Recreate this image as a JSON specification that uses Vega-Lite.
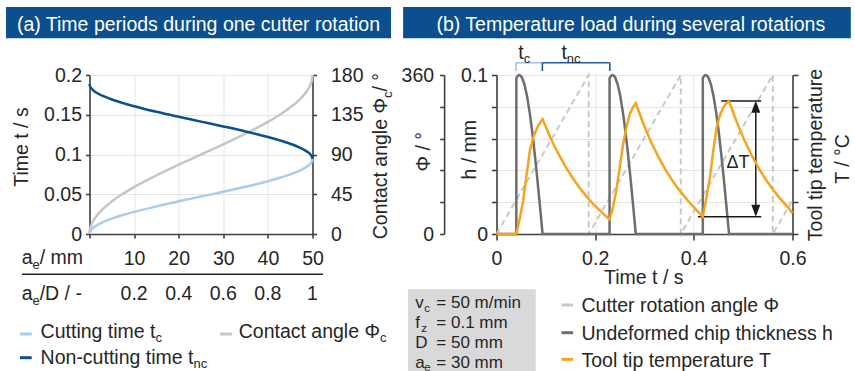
{
 "$schema": "https://vega.github.io/schema/vega-lite/v6.json",
 "padding": {"left": 5.5, "top": 6, "right": 0, "bottom": 0},
 "bounds": "flush",
 "spacing": 184,
 "config": {
  "view": {"stroke": null},
  "font": "Liberation Sans",
  "text": {"font": "Liberation Sans", "fontSize": 19.5, "color": "#262626"},
  "axis": {"labelFont": "Liberation Sans", "labelFontSize": 19.5, "labelColor": "#262626", "domainColor": "#404040", "tickColor": "#404040", "domainWidth": 1.6, "tickWidth": 1.6, "gridColor": "#e3e3e3", "gridWidth": 1, "labelOverlap": false, "labelFlush": false}
 },
 "datasets": {
  "one": [{}],
  "cut": [
   {"ae":0,"phic":0,"tc":0,"tnc":0.1885},
   {"ae":0.1,"phic":5.13,"tc":0.00269,"tnc":0.18581},
   {"ae":0.25,"phic":8.11,"tc":0.00425,"tnc":0.18425},
   {"ae":0.5,"phic":11.48,"tc":0.00601,"tnc":0.18249},
   {"ae":1,"phic":16.26,"tc":0.00851,"tnc":0.17999},
   {"ae":2,"phic":23.07,"tc":0.01208,"tnc":0.17642},
   {"ae":3,"phic":28.36,"tc":0.01485,"tnc":0.17365},
   {"ae":5,"phic":36.87,"tc":0.01931,"tnc":0.16919},
   {"ae":7.5,"phic":45.57,"tc":0.02386,"tnc":0.16464},
   {"ae":10,"phic":53.13,"tc":0.02782,"tnc":0.16068},
   {"ae":15,"phic":66.42,"tc":0.03478,"tnc":0.15372},
   {"ae":20,"phic":78.46,"tc":0.04108,"tnc":0.14742},
   {"ae":25,"phic":90,"tc":0.04712,"tnc":0.14138},
   {"ae":30,"phic":101.54,"tc":0.05317,"tnc":0.13533},
   {"ae":35,"phic":113.58,"tc":0.05947,"tnc":0.12903},
   {"ae":40,"phic":126.87,"tc":0.06643,"tnc":0.12207},
   {"ae":42.5,"phic":134.43,"tc":0.07039,"tnc":0.11811},
   {"ae":45,"phic":143.13,"tc":0.07494,"tnc":0.11356},
   {"ae":47.5,"phic":154.16,"tc":0.08072,"tnc":0.10778},
   {"ae":48,"phic":156.93,"tc":0.08217,"tnc":0.10633},
   {"ae":49,"phic":163.74,"tc":0.08574,"tnc":0.10276},
   {"ae":49.5,"phic":168.52,"tc":0.08824,"tnc":0.10026},
   {"ae":49.75,"phic":171.89,"tc":0.09,"tnc":0.0985},
   {"ae":49.9,"phic":174.87,"tc":0.09156,"tnc":0.09694},
   {"ae":50,"phic":180,"tc":0.09425,"tnc":0.09425}
  ],
  "hdata": [
   {"t":0,"h":0},{"t":0.0402,"h":0},{"t":0.04021,"h":0.098},{"t":0.04205,"h":0.099},{"t":0.04415,"h":0.0998},{"t":0.04624,"h":0.1},{"t":0.04886,"h":0.0996},{"t":0.05148,"h":0.0985},{"t":0.05671,"h":0.094},{"t":0.06195,"h":0.0866},{"t":0.06718,"h":0.0766},{"t":0.07242,"h":0.0643},{"t":0.07765,"h":0.05},{"t":0.08289,"h":0.0342},{"t":0.08813,"h":0.0174},{"t":0.09336,"h":0},
   {"t":0.2292,"h":0},{"t":0.22921,"h":0.098},{"t":0.23105,"h":0.099},{"t":0.23315,"h":0.0998},{"t":0.23524,"h":0.1},{"t":0.23786,"h":0.0996},{"t":0.24048,"h":0.0985},{"t":0.24571,"h":0.094},{"t":0.25095,"h":0.0866},{"t":0.25618,"h":0.0766},{"t":0.26142,"h":0.0643},{"t":0.26665,"h":0.05},{"t":0.27189,"h":0.0342},{"t":0.27713,"h":0.0174},{"t":0.28236,"h":0},
   {"t":0.4182,"h":0},{"t":0.41821,"h":0.098},{"t":0.42005,"h":0.099},{"t":0.42215,"h":0.0998},{"t":0.42424,"h":0.1},{"t":0.42686,"h":0.0996},{"t":0.42948,"h":0.0985},{"t":0.43471,"h":0.094},{"t":0.43995,"h":0.0866},{"t":0.44518,"h":0.0766},{"t":0.45042,"h":0.0643},{"t":0.45565,"h":0.05},{"t":0.46089,"h":0.0342},{"t":0.46613,"h":0.0174},{"t":0.47136,"h":0},{"t":0.6,"h":0}
  ],
  "phidata": [
   {"t":0,"p":0},{"t":0.1869,"p":360},{"t":0.18691,"p":0},{"t":0.3735,"p":360},{"t":0.37351,"p":0},{"t":0.5601,"p":360},{"t":0.56011,"p":0},{"t":0.6,"p":76.9}
  ],
  "tdata": [
   {"t":0,"T":0},{"t":0.0402,"T":0},{"t":0.047,"T":47.5},{"t":0.0539,"T":104},{"t":0.0607,"T":182.5},{"t":0.0675,"T":261},{"t":0.0743,"T":302.5},{"t":0.0811,"T":329},{"t":0.0872,"T":347.5},{"t":0.0934,"T":360.5},
   {"t":0.1084,"T":306},{"t":0.1234,"T":258},{"t":0.1384,"T":215.5},{"t":0.1534,"T":178.5},{"t":0.1684,"T":145.5},{"t":0.1834,"T":116},{"t":0.1984,"T":90.5},{"t":0.2134,"T":68},{"t":0.2292,"T":46},
   {"t":0.2359,"T":82},{"t":0.2426,"T":135},{"t":0.2496,"T":207},{"t":0.2566,"T":282},{"t":0.2634,"T":335},{"t":0.2702,"T":376.5},{"t":0.2763,"T":397.5},{"t":0.2824,"T":411},
   {"t":0.2974,"T":347.5},{"t":0.3124,"T":292.5},{"t":0.3274,"T":245},{"t":0.3424,"T":202.5},{"t":0.3574,"T":166},{"t":0.3724,"T":134},{"t":0.3874,"T":106},{"t":0.4024,"T":80},{"t":0.4182,"T":54.5},
   {"t":0.4254,"T":112.5},{"t":0.4325,"T":177},{"t":0.4393,"T":260},{"t":0.446,"T":334.5},{"t":0.4527,"T":372.5},{"t":0.4593,"T":397},{"t":0.4653,"T":410},{"t":0.4714,"T":418},
   {"t":0.4864,"T":354.5},{"t":0.5014,"T":298.5},{"t":0.5164,"T":250},{"t":0.5314,"T":207},{"t":0.5464,"T":170},{"t":0.5614,"T":137.5},{"t":0.5764,"T":109},{"t":0.5914,"T":83},{"t":0.6,"T":65}
  ]
 },
 "hconcat": [
  {
   "width": 223, "height": 159,
   "resolve": {"scale": {"y": "independent"}, "axis": {"y": "independent"}},
   "layer": [
    {
     "data": {"name": "cut"},
     "mark": {"type": "line", "color": "#c6c6c6", "strokeWidth": 2.5, "interpolate": "monotone"},
     "encoding": {
      "x": {"field": "ae", "type": "quantitative", "scale": {"domain": [0, 50], "nice": false},
            "axis": {"orient": "bottom", "values": [0, 10, 20, 30, 40, 50], "labelExpr": "datum.value == 0 ? '' : datum.label", "grid": true, "title": null, "tickSize": 4, "labelPadding": 11.5, "labelOverlap": false}},
      "y": {"field": "phic", "type": "quantitative", "scale": {"domain": [0, 180], "nice": false},
            "axis": {"orient": "right", "values": [0, 45, 90, 135, 180], "grid": false, "title": null, "tickSize": 4, "labelPadding": 14, "labelOverlap": false}}
     }
    },
    {
     "data": {"name": "cut"},
     "mark": {"type": "line", "color": "#a9cdec", "strokeWidth": 2.5, "interpolate": "monotone"},
     "encoding": {
      "x": {"field": "ae", "type": "quantitative"},
      "y": {"field": "tc", "type": "quantitative", "scale": {"domain": [0, 0.2], "nice": false},
            "axis": {"orient": "left", "values": [0, 0.05, 0.1, 0.15, 0.2], "labelExpr": "datum.value == 0 ? '0' : datum.value == 0.05 ? '0.05' : datum.value == 0.1 ? '0.1' : datum.value == 0.15 ? '0.15' : '0.2'", "grid": true, "title": null, "tickSize": 4, "labelPadding": 4, "labelOverlap": false}}
     }
    },
    {
     "data": {"name": "cut"},
     "mark": {"type": "line", "color": "#0b4f8e", "strokeWidth": 2.5, "interpolate": "monotone"},
     "encoding": {
      "x": {"field": "ae", "type": "quantitative"},
      "y": {"field": "tnc", "type": "quantitative", "scale": {"domain": [0, 0.2], "nice": false}, "axis": null}
     }
    },
    {
     "data": {"name": "one"},
     "mark": {"type": "rect", "color": "#0b4f8e"},
     "encoding": {"x": {"datum": -18.72}, "x2": {"datum": 67.6}, "y": {"datum": 0.28554, "scale": {"domain": [0, 0.2], "nice": false}, "axis": null}, "y2": {"datum": 0.24617}}
    },
    {
     "data": {"name": "one"},
     "mark": {"type": "text", "text": "(a) Time periods during one cutter rotation", "color": "#ffffff", "align": "center", "baseline": "alphabetic"},
     "encoding": {"x": {"datum": 24.44}, "y": {"datum": 0.2554, "scale": {"domain": [0, 0.2], "nice": false}, "axis": null}}
    },
    {
     "data": {"name": "one"},
     "mark": {"type": "text", "text": "Time t / s", "angle": 270, "align": "center", "baseline": "middle"},
     "encoding": {"x": {"datum": -15.2}, "y": {"datum": 0.1094, "scale": {"domain": [0, 0.2], "nice": false}, "axis": null}}
    },
    {
     "data": {"name": "one"},
     "mark": {"type": "text", "text": "Contact angle Φ", "angle": 270, "align": "right", "baseline": "alphabetic"},
     "encoding": {"x": {"datum": 66.71}, "y": {"datum": 0.1711, "scale": {"domain": [0, 0.2], "nice": false}, "axis": null}}
    },
    {
     "data": {"name": "one"},
     "mark": {"type": "text", "text": "c", "angle": 270, "align": "left", "baseline": "alphabetic", "fontSize": 13, "dy": 5},
     "encoding": {"x": {"datum": 66.71}, "y": {"datum": 0.1711, "scale": {"domain": [0, 0.2], "nice": false}, "axis": null}}
    },
    {
     "data": {"name": "one"},
     "mark": {"type": "text", "text": "\u00a0/ °", "angle": 270, "align": "left", "baseline": "alphabetic", "dx": 6.5},
     "encoding": {"x": {"datum": 66.71}, "y": {"datum": 0.1711, "scale": {"domain": [0, 0.2], "nice": false}, "axis": null}}
    },
    {
     "data": {"name": "one"},
     "mark": {"type": "text", "text": ["a", "a"], "align": "right", "baseline": "alphabetic", "lineHeight": 36},
     "encoding": {"x": {"datum": -12.78}, "y": {"datum": -0.0381, "scale": {"domain": [0, 0.2], "nice": false}, "axis": null}}
    },
    {
     "data": {"name": "one"},
     "mark": {"type": "text", "text": ["e", "e"], "align": "left", "baseline": "alphabetic", "lineHeight": 36, "fontSize": 13, "dy": 5},
     "encoding": {"x": {"datum": -12.78}, "y": {"datum": -0.0381, "scale": {"domain": [0, 0.2], "nice": false}, "axis": null}}
    },
    {
     "data": {"name": "one"},
     "mark": {"type": "text", "text": ["\u00a0/ mm", "/D / -"], "align": "left", "baseline": "alphabetic", "lineHeight": 36},
     "encoding": {"x": {"datum": -11.17}, "y": {"datum": -0.0381, "scale": {"domain": [0, 0.2], "nice": false}, "axis": null}}
    },
    {
     "data": {"name": "one"},
     "mark": {"type": "rule", "color": "#262626", "strokeWidth": 1.5},
     "encoding": {"x": {"datum": -15.13}, "x2": {"datum": 52.36}, "y": {"datum": -0.0507, "scale": {"domain": [0, 0.2], "nice": false}, "axis": null}}
    },
    {
     "data": {"values": [{"ae": 10, "r": "0.2"}, {"ae": 20, "r": "0.4"}, {"ae": 30, "r": "0.6"}, {"ae": 40, "r": "0.8"}, {"ae": 50, "r": "1"}]},
     "mark": {"type": "text", "align": "center", "baseline": "alphabetic"},
     "encoding": {"x": {"field": "ae", "type": "quantitative"}, "y": {"datum": -0.0834, "scale": {"domain": [0, 0.2], "nice": false}, "axis": null}, "text": {"field": "r"}}
    },
    {
     "data": {"name": "one"},
     "mark": {"type": "rule", "color": "#a9cdec", "strokeWidth": 3},
     "encoding": {"x": {"datum": -15.58}, "x2": {"datum": -12.96}, "y": {"datum": -0.1258, "scale": {"domain": [0, 0.2], "nice": false}, "axis": null}}
    },
    {
     "data": {"name": "one"},
     "mark": {"type": "rule", "color": "#0b4f8e", "strokeWidth": 3},
     "encoding": {"x": {"datum": -15.58}, "x2": {"datum": -12.96}, "y": {"datum": -0.1556, "scale": {"domain": [0, 0.2], "nice": false}, "axis": null}}
    },
    {
     "data": {"name": "one"},
     "mark": {"type": "rule", "color": "#c6c6c6", "strokeWidth": 3},
     "encoding": {"x": {"datum": 29.26}, "x2": {"datum": 31.95}, "y": {"datum": -0.1258, "scale": {"domain": [0, 0.2], "nice": false}, "axis": null}}
    },
    {
     "data": {"name": "one"},
     "mark": {"type": "text", "text": "Cutting time t", "align": "right", "baseline": "alphabetic"},
     "encoding": {"x": {"datum": 14.8}, "y": {"datum": -0.1312, "scale": {"domain": [0, 0.2], "nice": false}, "axis": null}}
    },
    {
     "data": {"name": "one"},
     "mark": {"type": "text", "text": "c", "align": "left", "baseline": "alphabetic", "fontSize": 13, "dy": 4},
     "encoding": {"x": {"datum": 14.8}, "y": {"datum": -0.1312, "scale": {"domain": [0, 0.2], "nice": false}, "axis": null}}
    },
    {
     "data": {"name": "one"},
     "mark": {"type": "text", "text": "Non-cutting time t", "align": "right", "baseline": "alphabetic"},
     "encoding": {"x": {"datum": 23.3}, "y": {"datum": -0.1639, "scale": {"domain": [0, 0.2], "nice": false}, "axis": null}}
    },
    {
     "data": {"name": "one"},
     "mark": {"type": "text", "text": "nc", "align": "left", "baseline": "alphabetic", "fontSize": 13, "dy": 4},
     "encoding": {"x": {"datum": 23.3}, "y": {"datum": -0.1639, "scale": {"domain": [0, 0.2], "nice": false}, "axis": null}}
    },
    {
     "data": {"name": "one"},
     "mark": {"type": "text", "text": "Contact angle Φ", "align": "right", "baseline": "alphabetic"},
     "encoding": {"x": {"datum": 65.14}, "y": {"datum": -0.1312, "scale": {"domain": [0, 0.2], "nice": false}, "axis": null}}
    },
    {
     "data": {"name": "one"},
     "mark": {"type": "text", "text": "c", "align": "left", "baseline": "alphabetic", "fontSize": 13, "dy": 4},
     "encoding": {"x": {"datum": 65.14}, "y": {"datum": -0.1312, "scale": {"domain": [0, 0.2], "nice": false}, "axis": null}}
    }
   ]
  },
  {
   "width": 296, "height": 159,
   "resolve": {"scale": {"y": "independent"}, "axis": {"y": "independent"}},
   "layer": [
    {
     "data": {"name": "phidata"},
     "mark": {"type": "line", "color": "#c8c8c8", "strokeWidth": 2, "strokeDash": [6, 4]},
     "encoding": {
      "x": {"field": "t", "type": "quantitative", "scale": {"domain": [0, 0.6], "nice": false},
            "axis": {"orient": "bottom", "values": [0, 0.2, 0.4, 0.6], "format": "~g", "grid": true, "title": null, "tickSize": 6, "labelPadding": 9.5, "labelOverlap": false}},
      "y": {"field": "p", "type": "quantitative", "scale": {"domain": [0, 360], "nice": false},
            "axis": {"orient": "left", "offset": 52.4, "values": [0, 72, 144, 216, 288, 360], "labelExpr": "datum.value == 0 ? '0' : datum.value == 360 ? '360' : ''", "grid": false, "title": null, "tickSize": 4.5, "labelPadding": 6, "labelOverlap": false}}
     }
    },
    {
     "data": {"name": "hdata"},
     "mark": {"type": "line", "color": "#6d6d6d", "strokeWidth": 2.5},
     "encoding": {
      "x": {"field": "t", "type": "quantitative"},
      "y": {"field": "h", "type": "quantitative", "scale": {"domain": [0, 0.1], "nice": false},
            "axis": {"orient": "left", "values": [0, 0.02, 0.04, 0.06, 0.08, 0.1], "labelExpr": "datum.value == 0 ? '0' : datum.value > 0.09 ? '0.1' : ''", "grid": true, "title": null, "tickSize": 5, "labelPadding": 4, "labelOverlap": false}}
     }
    },
    {
     "data": {"name": "one"},
     "mark": {"type": "rect", "color": "#0b4f8e"},
     "encoding": {"x": {"datum": -0.1893}, "x2": {"datum": 0.7182}, "y": {"datum": 0.14277, "scale": {"domain": [0, 0.1], "nice": false}, "axis": null}, "y2": {"datum": 0.12309}}
    },
    {
     "data": {"name": "one"},
     "mark": {"type": "text", "text": "(b) Temperature load during several rotations", "color": "#ffffff", "align": "center", "baseline": "alphabetic"},
     "encoding": {"x": {"datum": 0.2722}, "y": {"datum": 0.12767, "scale": {"domain": [0, 0.1], "nice": false}, "axis": null}}
    },
    {
     "data": {"values": [{"x1": 0.0395, "x2": 0.093, "y1": 0.1077, "y2": 0.1077}, {"x1": 0.0395, "x2": 0.0395, "y1": 0.1025, "y2": 0.1077}]},
     "mark": {"type": "rule", "color": "#9fc5e8", "strokeWidth": 1.6},
     "encoding": {"x": {"field": "x1", "type": "quantitative"}, "x2": {"field": "x2"}, "y": {"field": "y1", "type": "quantitative", "scale": {"domain": [0, 0.1], "nice": false}, "axis": null}, "y2": {"field": "y2"}}
    },
    {
     "data": {"values": [{"x1": 0.093, "x2": 0.2297, "y1": 0.1077, "y2": 0.1077}, {"x1": 0.093, "x2": 0.093, "y1": 0.1025, "y2": 0.1077}, {"x1": 0.2297, "x2": 0.2297, "y1": 0.1025, "y2": 0.1077}]},
     "mark": {"type": "rule", "color": "#1f5b9b", "strokeWidth": 1.6},
     "encoding": {"x": {"field": "x1", "type": "quantitative"}, "x2": {"field": "x2"}, "y": {"field": "y1", "type": "quantitative", "scale": {"domain": [0, 0.1], "nice": false}, "axis": null}, "y2": {"field": "y2"}}
    },
    {
     "data": {"name": "one"},
     "mark": {"type": "text", "text": "t", "align": "right", "baseline": "alphabetic"},
     "encoding": {"x": {"datum": 0.0553}, "y": {"datum": 0.1099, "scale": {"domain": [0, 0.1], "nice": false}, "axis": null}}
    },
    {
     "data": {"name": "one"},
     "mark": {"type": "text", "text": "c", "align": "left", "baseline": "alphabetic", "fontSize": 13, "dy": 4},
     "encoding": {"x": {"datum": 0.0553}, "y": {"datum": 0.1099, "scale": {"domain": [0, 0.1], "nice": false}, "axis": null}}
    },
    {
     "data": {"name": "one"},
     "mark": {"type": "text", "text": "t", "align": "right", "baseline": "alphabetic"},
     "encoding": {"x": {"datum": 0.1425}, "y": {"datum": 0.1099, "scale": {"domain": [0, 0.1], "nice": false}, "axis": null}}
    },
    {
     "data": {"name": "one"},
     "mark": {"type": "text", "text": "nc", "align": "left", "baseline": "alphabetic", "fontSize": 13, "dy": 4},
     "encoding": {"x": {"datum": 0.1425}, "y": {"datum": 0.1099, "scale": {"domain": [0, 0.1], "nice": false}, "axis": null}}
    },
    {
     "data": {"values": [{"x1": 0.4556, "x2": 0.5366, "y1": 0.0836, "y2": 0.0836}, {"x1": 0.4083, "x2": 0.5366, "y1": 0.0109, "y2": 0.0109}, {"x1": 0.5256, "x2": 0.5256, "y1": 0.0147, "y2": 0.0798}]},
     "mark": {"type": "rule", "color": "#1a1a1a", "strokeWidth": 1.5},
     "encoding": {"x": {"field": "x1", "type": "quantitative"}, "x2": {"field": "x2"}, "y": {"field": "y1", "type": "quantitative", "scale": {"domain": [0, 0.1], "nice": false}, "axis": null}, "y2": {"field": "y2"}}
    },
    {
     "data": {"name": "one"},
     "mark": {"type": "point", "shape": "M0,-1L-0.75,1L0.75,1Z", "size": 144, "filled": true, "color": "#1a1a1a", "opacity": 1},
     "encoding": {"x": {"datum": 0.5256}, "y": {"datum": 0.08, "scale": {"domain": [0, 0.1], "nice": false}, "axis": null}}
    },
    {
     "data": {"name": "one"},
     "mark": {"type": "point", "shape": "M0,1L-0.75,-1L0.75,-1Z", "size": 144, "filled": true, "color": "#1a1a1a", "opacity": 1},
     "encoding": {"x": {"datum": 0.5256}, "y": {"datum": 0.01467, "scale": {"domain": [0, 0.1], "nice": false}, "axis": null}}
    },
    {
     "data": {"name": "one"},
     "mark": {"type": "text", "text": "ΔT", "align": "center", "baseline": "alphabetic", "fontSize": 18},
     "encoding": {"x": {"datum": 0.4897}, "y": {"datum": 0.0417, "scale": {"domain": [0, 0.1], "nice": false}, "axis": null}}
    },
    {
     "data": {"name": "one"},
     "mark": {"type": "text", "text": "Φ / °", "angle": 270, "align": "center", "baseline": "middle"},
     "encoding": {"x": {"datum": -0.1474}, "y": {"datum": 0.0517, "scale": {"domain": [0, 0.1], "nice": false}, "axis": null}}
    },
    {
     "data": {"name": "one"},
     "mark": {"type": "text", "text": "h / mm", "angle": 270, "align": "center", "baseline": "middle"},
     "encoding": {"x": {"datum": -0.0531}, "y": {"datum": 0.053, "scale": {"domain": [0, 0.1], "nice": false}, "axis": null}}
    },
    {
     "data": {"name": "one"},
     "mark": {"type": "text", "text": "Tool tip temperature", "angle": 270, "align": "center", "baseline": "middle"},
     "encoding": {"x": {"datum": 0.6486}, "y": {"datum": 0.0497, "scale": {"domain": [0, 0.1], "nice": false}, "axis": null}}
    },
    {
     "data": {"name": "one"},
     "mark": {"type": "text", "text": "T / °C", "angle": 270, "align": "center", "baseline": "middle"},
     "encoding": {"x": {"datum": 0.7026}, "y": {"datum": 0.0472, "scale": {"domain": [0, 0.1], "nice": false}, "axis": null}}
    },
    {
     "data": {"name": "one"},
     "mark": {"type": "text", "text": "Time t / s", "align": "center", "baseline": "alphabetic"},
     "encoding": {"x": {"datum": 0.2986}, "y": {"datum": -0.03145, "scale": {"domain": [0, 0.1], "nice": false}, "axis": null}}
    },
    {
     "data": {"name": "one"},
     "mark": {"type": "rect", "color": "#d9d9d9"},
     "encoding": {"x": {"datum": -0.1796}, "x2": {"datum": 0.0796}, "y": {"datum": -0.03478, "scale": {"domain": [0, 0.1], "nice": false}, "axis": null}, "y2": {"datum": -0.0875}}
    },
    {
     "data": {"name": "one"},
     "mark": {"type": "text", "text": ["v", "f", "D", "a"], "align": "left", "baseline": "alphabetic", "fontSize": 17, "lineHeight": 20},
     "encoding": {"x": {"datum": -0.1646}, "y": {"datum": -0.04635, "scale": {"domain": [0, 0.1], "nice": false}, "axis": null}}
    },
    {
     "data": {"name": "one"},
     "mark": {"type": "text", "text": "c", "align": "left", "baseline": "alphabetic", "fontSize": 11.5, "dy": 4},
     "encoding": {"x": {"datum": -0.1464}, "y": {"datum": -0.04635, "scale": {"domain": [0, 0.1], "nice": false}, "axis": null}}
    },
    {
     "data": {"name": "one"},
     "mark": {"type": "text", "text": "z", "align": "left", "baseline": "alphabetic", "fontSize": 11.5, "dy": 4},
     "encoding": {"x": {"datum": -0.1525}, "y": {"datum": -0.05893, "scale": {"domain": [0, 0.1], "nice": false}, "axis": null}}
    },
    {
     "data": {"name": "one"},
     "mark": {"type": "text", "text": "e", "align": "left", "baseline": "alphabetic", "fontSize": 11.5, "dy": 3},
     "encoding": {"x": {"datum": -0.1464}, "y": {"datum": -0.08409, "scale": {"domain": [0, 0.1], "nice": false}, "axis": null}}
    },
    {
     "data": {"name": "one"},
     "mark": {"type": "text", "text": ["= 50 m/min", "= 0.1 mm", "= 50 mm", "= 30 mm"], "align": "left", "baseline": "alphabetic", "fontSize": 17, "lineHeight": 20},
     "encoding": {"x": {"datum": -0.122}, "y": {"datum": -0.04635, "scale": {"domain": [0, 0.1], "nice": false}, "axis": null}}
    },
    {
     "data": {"name": "one"},
     "mark": {"type": "rule", "color": "#c8c8c8", "strokeWidth": 3},
     "encoding": {"x": {"datum": 0.1317}, "x2": {"datum": 0.1553}, "y": {"datum": -0.04466, "scale": {"domain": [0, 0.1], "nice": false}, "axis": null}}
    },
    {
     "data": {"name": "one"},
     "mark": {"type": "rule", "color": "#6d6d6d", "strokeWidth": 3},
     "encoding": {"x": {"datum": 0.1317}, "x2": {"datum": 0.1553}, "y": {"datum": -0.06208, "scale": {"domain": [0, 0.1], "nice": false}, "axis": null}}
    },
    {
     "data": {"name": "one"},
     "mark": {"type": "rule", "color": "#f4a41f", "strokeWidth": 3},
     "encoding": {"x": {"datum": 0.1317}, "x2": {"datum": 0.1553}, "y": {"datum": -0.07881, "scale": {"domain": [0, 0.1], "nice": false}, "axis": null}}
    },
    {
     "data": {"name": "one"},
     "mark": {"type": "text", "text": ["Cutter rotation angle Φ", "Undeformed chip thickness h", "Tool tip temperature T"], "align": "left", "baseline": "alphabetic", "lineHeight": 27.6},
     "encoding": {"x": {"datum": 0.1723}, "y": {"datum": -0.04906, "scale": {"domain": [0, 0.1], "nice": false}, "axis": null}}
    },
    {
     "data": {"name": "tdata"},
     "mark": {"type": "line", "color": "#f4a41f", "strokeWidth": 2.5},
     "encoding": {
      "x": {"field": "t", "type": "quantitative"},
      "y": {"field": "T", "type": "quantitative", "scale": {"domain": [0, 500], "nice": false},
            "axis": {"orient": "right", "values": [0, 100, 200, 300, 400, 500], "labels": false, "grid": false, "title": null, "tickSize": 5.5}}
     }
    }
   ]
  }
 ]
}
